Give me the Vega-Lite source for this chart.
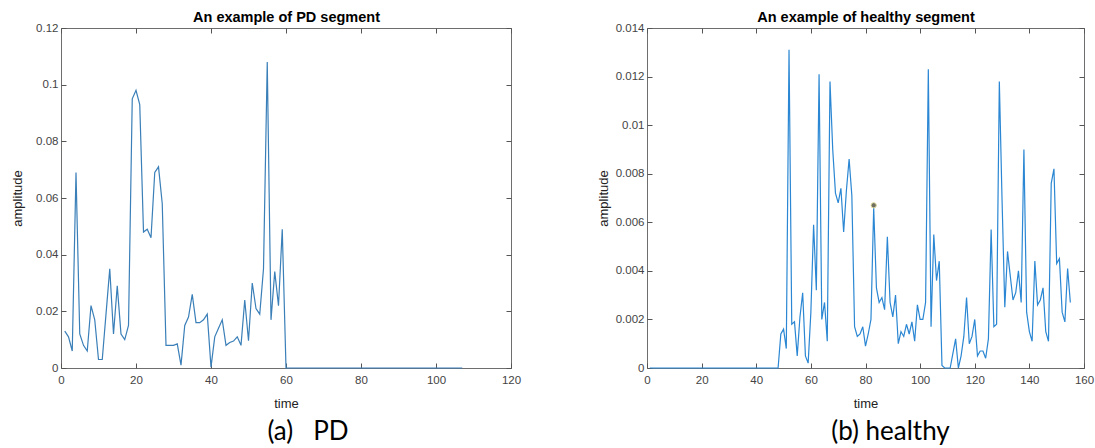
{
  "$schema": "https://vega.github.io/schema/vega-lite/v6.json",
  "background": "white",
  "padding": {"left": 10, "top": 8, "right": 5, "bottom": 5},
  "bounds": "flush",
  "spacing": 136,
  "config": {
    "view": {"stroke": "#6e6e6e", "strokeWidth": 1},
    "axis": {
      "domain": false, "grid": false, "tickSize": -5, "tickColor": "#555555", "tickWidth": 1,
      "labelFont": "Liberation Sans", "labelFontSize": 11.5, "labelColor": "#444444",
      "labelFlush": false, "labelOverlap": false, "labelBound": false,
      "titleFont": "Liberation Sans", "titleFontSize": 13, "titleFontWeight": "normal", "titleColor": "#222222"
    }
  },
  "datasets": {
    "pd": [
      {"t":1,"v":0.013},{"t":2,"v":0.011},{"t":3,"v":0.006},{"t":4,"v":0.069},{"t":5,"v":0.012},{"t":6,"v":0.008},{"t":7,"v":0.006},{"t":8,"v":0.022},{"t":9,"v":0.017},{"t":10,"v":0.003},
      {"t":11,"v":0.003},{"t":12,"v":0.019},{"t":13,"v":0.035},{"t":14,"v":0.012},{"t":15,"v":0.029},{"t":16,"v":0.012},{"t":17,"v":0.010},{"t":18,"v":0.015},{"t":19,"v":0.095},{"t":20,"v":0.098},
      {"t":21,"v":0.093},{"t":22,"v":0.048},{"t":23,"v":0.049},{"t":24,"v":0.046},{"t":25,"v":0.069},{"t":26,"v":0.071},{"t":27,"v":0.058},{"t":28,"v":0.008},{"t":29,"v":0.008},{"t":30,"v":0.008},
      {"t":31,"v":0.0085},{"t":32,"v":0.001},{"t":33,"v":0.015},{"t":34,"v":0.018},{"t":35,"v":0.026},{"t":36,"v":0.016},{"t":37,"v":0.016},{"t":38,"v":0.017},{"t":39,"v":0.019},{"t":40,"v":0.0003},
      {"t":41,"v":0.011},{"t":42,"v":0.014},{"t":43,"v":0.017},{"t":44,"v":0.008},{"t":45,"v":0.009},{"t":46,"v":0.0095},{"t":47,"v":0.011},{"t":48,"v":0.008},{"t":49,"v":0.024},{"t":50,"v":0.0096},
      {"t":51,"v":0.030},{"t":52,"v":0.021},{"t":53,"v":0.019},{"t":54,"v":0.035},{"t":55,"v":0.108},{"t":56,"v":0.017},{"t":57,"v":0.034},{"t":58,"v":0.022},{"t":59,"v":0.049},{"t":60,"v":0},
      {"t":61,"v":0},{"t":62,"v":0},{"t":63,"v":0},{"t":64,"v":0},{"t":65,"v":0},{"t":66,"v":0},{"t":67,"v":0},{"t":68,"v":0},{"t":69,"v":0},{"t":70,"v":0},
      {"t":71,"v":0},{"t":72,"v":0},{"t":73,"v":0},{"t":74,"v":0},{"t":75,"v":0},{"t":76,"v":0},{"t":77,"v":0},{"t":78,"v":0},{"t":79,"v":0},{"t":80,"v":0},
      {"t":81,"v":0},{"t":82,"v":0},{"t":83,"v":0},{"t":84,"v":0},{"t":85,"v":0},{"t":86,"v":0},{"t":87,"v":0},{"t":88,"v":0},{"t":89,"v":0},{"t":90,"v":0},
      {"t":91,"v":0},{"t":92,"v":0},{"t":93,"v":0},{"t":94,"v":0},{"t":95,"v":0},{"t":96,"v":0},{"t":97,"v":0},{"t":98,"v":0},{"t":99,"v":0},{"t":100,"v":0},
      {"t":101,"v":0},{"t":102,"v":0},{"t":103,"v":0},{"t":104,"v":0},{"t":105,"v":0},{"t":106,"v":0},{"t":107,"v":0}
    ],
    "healthy": [
      {"t":1,"v":0},{"t":2,"v":0},{"t":3,"v":0},{"t":4,"v":0},{"t":5,"v":0},{"t":6,"v":0},{"t":7,"v":0},{"t":8,"v":0},{"t":9,"v":0},{"t":10,"v":0},
      {"t":11,"v":0},{"t":12,"v":0},{"t":13,"v":0},{"t":14,"v":0},{"t":15,"v":0},{"t":16,"v":0},{"t":17,"v":0},{"t":18,"v":0},{"t":19,"v":0},{"t":20,"v":0},
      {"t":21,"v":0},{"t":22,"v":0},{"t":23,"v":0},{"t":24,"v":0},{"t":25,"v":0},{"t":26,"v":0},{"t":27,"v":0},{"t":28,"v":0},{"t":29,"v":0},{"t":30,"v":0},
      {"t":31,"v":0},{"t":32,"v":0},{"t":33,"v":0},{"t":34,"v":0},{"t":35,"v":0},{"t":36,"v":0},{"t":37,"v":0},{"t":38,"v":0},{"t":39,"v":0},{"t":40,"v":0},
      {"t":41,"v":0},{"t":42,"v":0},{"t":43,"v":0},{"t":44,"v":0},{"t":45,"v":0},{"t":46,"v":0},{"t":47,"v":0},{"t":48,"v":0},{"t":49,"v":0.0014},{"t":50,"v":0.0016},
      {"t":51,"v":0.0008},{"t":52,"v":0.0131},{"t":53,"v":0.0018},{"t":54,"v":0.0019},{"t":55,"v":0.0005},{"t":56,"v":0.0021},{"t":57,"v":0.0031},{"t":58,"v":0.0005},{"t":59,"v":0.0002},{"t":60,"v":0.0023},
      {"t":61,"v":0.0059},{"t":62,"v":0.0032},{"t":63,"v":0.0121},{"t":64,"v":0.0020},{"t":65,"v":0.0027},{"t":66,"v":0.0011},{"t":67,"v":0.0118},{"t":68,"v":0.0090},{"t":69,"v":0.0072},{"t":70,"v":0.0068},
      {"t":71,"v":0.0074},{"t":72,"v":0.0056},{"t":73,"v":0.0073},{"t":74,"v":0.0086},{"t":75,"v":0.0071},{"t":76,"v":0.0017},{"t":77,"v":0.0013},{"t":78,"v":0.0014},{"t":79,"v":0.0017},{"t":80,"v":0.0009},
      {"t":81,"v":0.0014},{"t":82,"v":0.0020},{"t":83,"v":0.0066},{"t":84,"v":0.0033},{"t":85,"v":0.0027},{"t":86,"v":0.0029},{"t":87,"v":0.0024},{"t":88,"v":0.0054},{"t":89,"v":0.0027},{"t":90,"v":0.0021},
      {"t":91,"v":0.0030},{"t":92,"v":0.0010},{"t":93,"v":0.0015},{"t":94,"v":0.0013},{"t":95,"v":0.0018},{"t":96,"v":0.0014},{"t":97,"v":0.0019},{"t":98,"v":0.0011},{"t":99,"v":0.0026},{"t":100,"v":0.0020},
      {"t":101,"v":0.0020},{"t":102,"v":0.0027},{"t":103,"v":0.0123},{"t":104,"v":0.0017},{"t":105,"v":0.0055},{"t":106,"v":0.0036},{"t":107,"v":0.0044},{"t":108,"v":0.0001},{"t":109,"v":0},{"t":110,"v":0},
      {"t":111,"v":0},{"t":112,"v":0.0006},{"t":113,"v":0.0012},{"t":114,"v":0},{"t":115,"v":0.0005},{"t":116,"v":0.0013},{"t":117,"v":0.0029},{"t":118,"v":0.0010},{"t":119,"v":0.0013},{"t":120,"v":0.0020},
      {"t":121,"v":0.0005},{"t":122,"v":0.0007},{"t":123,"v":0.0007},{"t":124,"v":0.0004},{"t":125,"v":0.0012},{"t":126,"v":0.0057},{"t":127,"v":0.0017},{"t":128,"v":0.0018},{"t":129,"v":0.0118},{"t":130,"v":0.0069},
      {"t":131,"v":0.0025},{"t":132,"v":0.0048},{"t":133,"v":0.0038},{"t":134,"v":0.0028},{"t":135,"v":0.0031},{"t":136,"v":0.0040},{"t":137,"v":0.0027},{"t":138,"v":0.0090},{"t":139,"v":0.0023},{"t":140,"v":0.0015},
      {"t":141,"v":0.0011},{"t":142,"v":0.0044},{"t":143,"v":0.0026},{"t":144,"v":0.0028},{"t":145,"v":0.0033},{"t":146,"v":0.0015},{"t":147,"v":0.0011},{"t":148,"v":0.0076},{"t":149,"v":0.0082},{"t":150,"v":0.0043},
      {"t":151,"v":0.0045},{"t":152,"v":0.0023},{"t":153,"v":0.0019},{"t":154,"v":0.0041},{"t":155,"v":0.0027}
    ],
    "tip": [{"t":83,"v":0.0067}]
  },
  "hconcat": [
    {
      "width": 450, "height": 340,
      "title": {"text": "(a)\u00a0\u00a0\u00a0PD", "orient": "bottom", "font": "Lato", "fontSize": 26, "fontWeight": "normal", "color": "#000000", "dx": 22, "offset": 9},
      "layer": [
        {
          "data": {"name": "pd"},
          "mark": {"type": "line", "color": "#3a7fb8", "strokeWidth": 1.2},
          "encoding": {
            "x": {"field": "t", "type": "quantitative", "scale": {"domain": [0, 120], "nice": false},
                  "axis": {"orient": "bottom", "values": [0,20,40,60,80,100,120], "title": "time", "titleX": 225, "titleY": 35, "titleBaseline": "middle", "labelPadding": 11}},
            "y": {"field": "v", "type": "quantitative", "scale": {"domain": [0, 0.12], "nice": false},
                  "axis": {"orient": "left", "values": [0,0.02,0.04,0.06,0.08,0.1,0.12], "format": ".2~f", "title": "amplitude", "titleX": -44, "titleY": 170, "titleBaseline": "middle", "labelPadding": 8}}
          }
        },
        {
          "data": {"name": "pd"},
          "mark": {"type": "line", "opacity": 0},
          "encoding": {
            "x": {"field": "t", "type": "quantitative", "scale": {"domain": [0, 120], "nice": false},
                  "axis": {"orient": "top", "values": [0,20,40,60,80,100,120], "labels": false, "title": "An example of PD segment", "titleFontWeight": "bold", "titleFontSize": 14.5, "titleColor": "#000000", "titleX": 225, "titleY": -11, "titleBaseline": "middle"}},
            "y": {"field": "v", "type": "quantitative", "scale": {"domain": [0, 0.12], "nice": false},
                  "axis": {"orient": "right", "values": [0,0.02,0.04,0.06,0.08,0.1,0.12], "labels": false, "title": null}}
          }
        }
      ],
      "resolve": {"axis": {"x": "independent", "y": "independent"}}
    },
    {
      "width": 437, "height": 340,
      "title": {"text": "(b) healthy", "orient": "bottom", "font": "Lato", "fontSize": 26, "fontWeight": "normal", "color": "#000000", "dx": 25, "offset": 9},
      "layer": [
        {
          "data": {"name": "healthy"},
          "mark": {"type": "line", "color": "#2b87d3", "strokeWidth": 1.2},
          "encoding": {
            "x": {"field": "t", "type": "quantitative", "scale": {"domain": [0, 160], "nice": false},
                  "axis": {"orient": "bottom", "values": [0,20,40,60,80,100,120,140,160], "title": "time", "titleX": 218.5, "titleY": 35, "titleBaseline": "middle", "labelPadding": 11}},
            "y": {"field": "v", "type": "quantitative", "scale": {"domain": [0, 0.014], "nice": false},
                  "axis": {"orient": "left", "values": [0,0.002,0.004,0.006,0.008,0.01,0.012,0.014], "format": ".3~f", "title": "amplitude", "titleX": -44, "titleY": 170, "titleBaseline": "middle", "labelPadding": 8}}
          }
        },
        {
          "data": {"name": "tip"},
          "mark": {"type": "point", "filled": true, "color": "#6f6f62", "stroke": "#e3dca0", "strokeWidth": 1, "size": 28, "opacity": 1},
          "encoding": {
            "x": {"field": "t", "type": "quantitative", "scale": {"domain": [0, 160], "nice": false},
                  "axis": {"orient": "top", "values": [0,20,40,60,80,100,120,140,160], "labels": false, "title": "An example of healthy segment", "titleFontWeight": "bold", "titleFontSize": 14.5, "titleColor": "#000000", "titleX": 218.5, "titleY": -11, "titleBaseline": "middle"}},
            "y": {"field": "v", "type": "quantitative", "scale": {"domain": [0, 0.014], "nice": false},
                  "axis": {"orient": "right", "values": [0,0.002,0.004,0.006,0.008,0.01,0.012,0.014], "labels": false, "title": null}}
          }
        }
      ],
      "resolve": {"axis": {"x": "independent", "y": "independent"}}
    }
  ]
}
